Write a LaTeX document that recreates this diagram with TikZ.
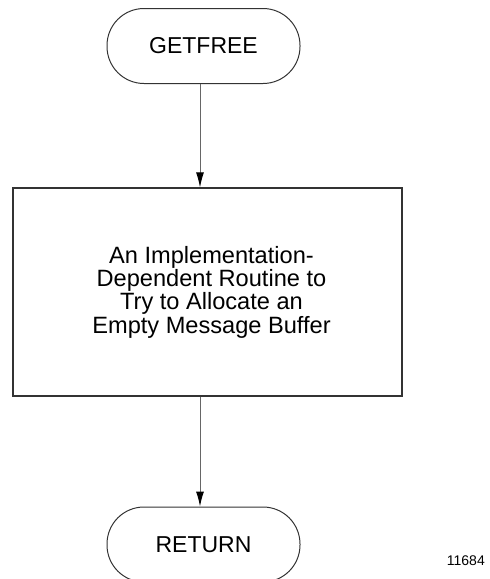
\documentclass[tikz,border=0pt]{standalone}
\usepackage{fontspec}
\setmainfont{Liberation Sans}
\usetikzlibrary{arrows.meta}

\begin{document}
\begin{tikzpicture}[x=1pt,y=-1pt,
      term/.style={draw=black!80,line width=1pt,rectangle,rounded corners=37pt,
        minimum width=193pt,minimum height=75pt,inner sep=0pt,
        font=\fontsize{23}{23.3}\selectfont},
      proc/.style={draw=black!80,line width=1.2pt,rectangle,
        minimum width=389pt,minimum height=208pt,inner sep=0pt,align=center,
        font=\fontsize{23.6}{23.3}\selectfont},
      flow/.style={black!60,line width=1pt,-{Latex[length=15pt,width=8pt,black]}},
      tag/.style={font=\fontsize{14}{16}\selectfont,inner sep=0pt}]
    \useasboundingbox (0,0) rectangle (490,579);
    \clip (0,0) rectangle (490,579);
    % the two end points and the one step between them
    \node[term] (getfree) at (203.5,46) {GETFREE};
    \node[proc] (alloc) at (207.5,292) {\hspace*{8pt}An Implementation-\\\hspace*{8pt}Dependent Routine to\\\hspace*{8pt}Try to Allocate an\\\hspace*{8pt}Empty Message Buffer};
    \node[term] (return) at (203.5,544.5) {RETURN};
    \node[tag,anchor=base east] (fignum) at (485,565) {11684};
    % connectors
    \draw[flow] ([xshift=-3.5pt]getfree.south) -- ([xshift=-3.5pt]getfree.south |- alloc.north);
    \draw[flow] ([xshift=-3.5pt]return.north |- alloc.south) -- ([xshift=-3.5pt]return.north);
  \end{tikzpicture}
\end{document}
